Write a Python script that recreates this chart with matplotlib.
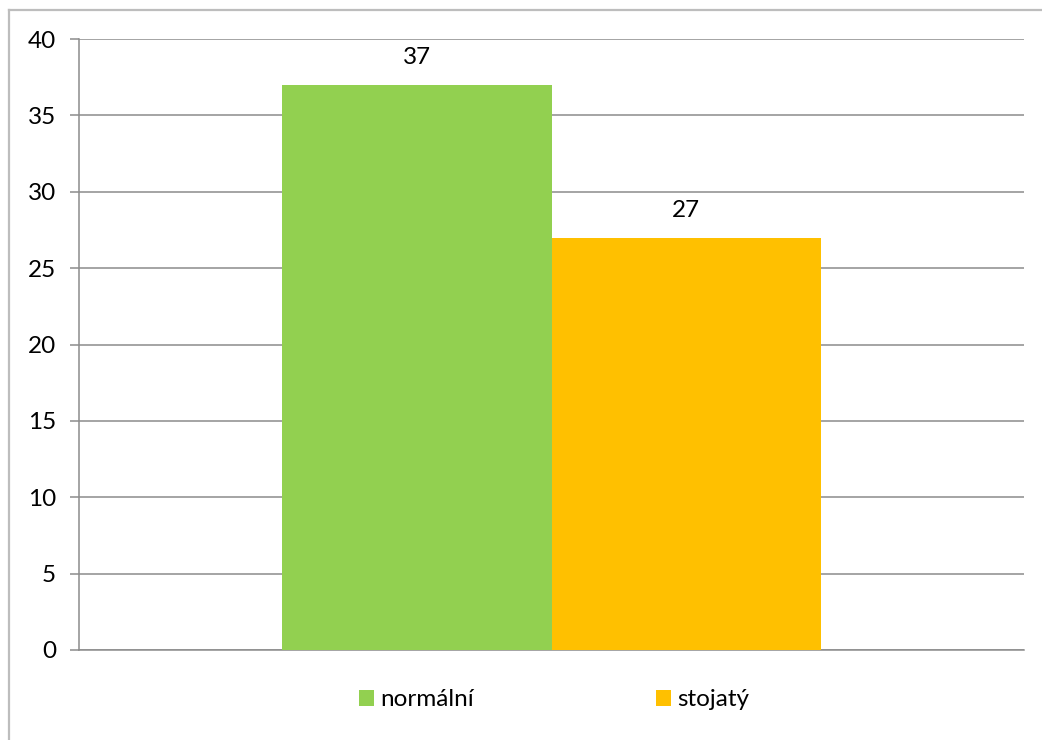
import matplotlib
matplotlib.use("Agg")
import matplotlib.pyplot as plt
from matplotlib.lines import Line2D
from matplotlib.patches import Patch

categories = [""]
series_names = ["normální", "stojatý"]
series_values = [[37], [27]]
colors = ["#92D050", "#FFC000"]
yticks = [0, 5, 10, 15, 20, 25, 30, 35, 40]

plt.rcParams['font.family'] = ['Lato', 'DejaVu Sans']
FS = 17.5

W, H = 1042, 740
fig = plt.figure(figsize=(W / 100, H / 100), dpi=100)
fig.patch.set_facecolor("white")

# chart-area border (Excel style) : left & top lines visible
fig.add_artist(Line2D([9 / W, 9 / W], [0, 1 - 10 / H], transform=fig.transFigure,
                      color="#bdbdbd", lw=1.6))
fig.add_artist(Line2D([9 / W, 1], [1 - 10 / H, 1 - 10 / H], transform=fig.transFigure,
                      color="#bdbdbd", lw=1.6))

ax = fig.add_axes([79 / W, 1 - 650 / H, (1024 - 79) / W, (650 - 39) / H])

width = 0.285
offsets = [-width / 2, width / 2]
x0 = 0
for name, vals, col, off in zip(series_names, series_values, colors, offsets):
    bars = ax.bar([x0 + off], vals, width=width, color=col, label=name, zorder=3)
    for b, v in zip(bars, vals):
        ax.annotate(f"{v}", (b.get_x() + b.get_width() / 2, v), xytext=(0, 12),
                    textcoords="offset points", ha="center", va="bottom", fontsize=FS)

ax.set_xlim(-0.5, 0.5)
ax.set_ylim(0, 40)
ax.set_yticks(yticks)
ax.set_yticklabels([str(t) for t in yticks], fontsize=FS)
ax.set_xticks([])
ax.yaxis.grid(True, color="#8c8c8c", lw=1.1, zorder=0)
ax.set_axisbelow(True)
for s in ["top", "right"]:
    ax.spines[s].set_visible(False)
ax.spines["left"].set_color("#8c8c8c")
ax.spines["left"].set_linewidth(1.1)
ax.spines["bottom"].set_color("#8c8c8c")
ax.spines["bottom"].set_linewidth(1.1)
ax.tick_params(axis="y", length=6.5, width=1.1, color="#8c8c8c", pad=10)

em = FS * 100 / 72
handles = [Patch(facecolor=c, edgecolor="none") for c in colors]
leg = fig.legend(handles, series_names, loc="center", bbox_to_anchor=(554 / W, 1 - 700 / H),
                 ncol=2, frameon=False, fontsize=FS, handlelength=15 / em, handleheight=15 / em,
                 handletextpad=6 / em, columnspacing=182 / em, borderaxespad=0, borderpad=0)

fig.savefig("out.png", dpi=100)
